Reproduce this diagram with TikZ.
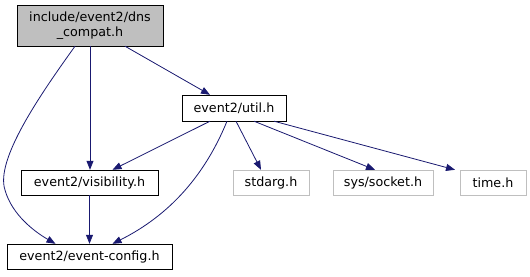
\documentclass[tikz,border=0pt]{standalone}
\usepackage{fontspec}
\setmainfont{DejaVu Sans}
\usetikzlibrary{arrows.meta}
\definecolor{edgec}{HTML}{191970}
\definecolor{grayfill}{HTML}{BFBFBF}
\definecolor{lightb}{HTML}{BFBFBF}
\tikzset{
  box/.style={draw=black, fill=white, minimum height=25pt, inner sep=0pt, font=\fontsize{12.7}{15.5}\selectfont, align=center},
  mainbox/.style={box, fill=grayfill},
  extbox/.style={box, draw=lightb},
  dep/.style={draw=edgec, line width=0.8pt, -{Triangle[length=9pt,width=7pt]}}
}
\begin{document}
\begin{tikzpicture}[x=1pt,y=-1pt]
\useasboundingbox (0,0) rectangle (530,276);
\node[mainbox, minimum width=146pt, minimum height=41pt] (dns) at (90,25.5) {include/event2/dns\\\_compat.h};
\node[box, minimum width=104pt, minimum height=26pt] (util) at (234,108) {event2/util.h};
\node[box, minimum width=137pt] (vis) at (89.5,182.5) {event2/visibility.h};
\node[box, minimum width=165pt] (cfg) at (89.5,256.5) {event2/event-config.h};
\node[extbox, minimum width=76pt] (std) at (271,182.5) {stdarg.h};
\node[extbox, minimum width=100pt] (sock) at (383,182.5) {sys/socket.h};
\node[extbox, minimum width=66pt] (time) at (493,182.5) {time.h};

\coordinate (d1) at ([xshift=35pt]dns.south);
\coordinate (d3) at ([xshift=-15pt]dns.south);
\coordinate (u0) at ([xshift=-24pt]util.north);
\coordinate (u1) at ([xshift=-24pt]util.south);
\coordinate (u2) at ([xshift=-7pt]util.south);
\coordinate (u3) at ([xshift=2pt]util.south);
\coordinate (u4) at ([xshift=20pt]util.south);
\coordinate (u5) at ([xshift=40pt]util.south);

\draw[dep] (d1) -- (u0);
\draw[dep] (dns.south) -- (vis.north -| dns.south);
\draw[dep] (d3) .. controls (40,95) and (-5,160) .. (5,190) .. controls (12,215) and (35,232) .. ([xshift=-34pt]cfg.north);
\draw[dep] (u1) -- ([xshift=23pt]vis.north);
\draw[dep] (u2) .. controls (205,175) and (170,215) .. ([xshift=23pt]cfg.north);
\draw[dep] (u3) -- ([xshift=-10pt]std.north);
\draw[dep] (u4) -- ([xshift=-8pt]sock.north);
\draw[dep] (u5) -- ([xshift=-38pt]time.north);
\draw[dep] (vis.south) -- (cfg.north);
\end{tikzpicture}
\end{document}
